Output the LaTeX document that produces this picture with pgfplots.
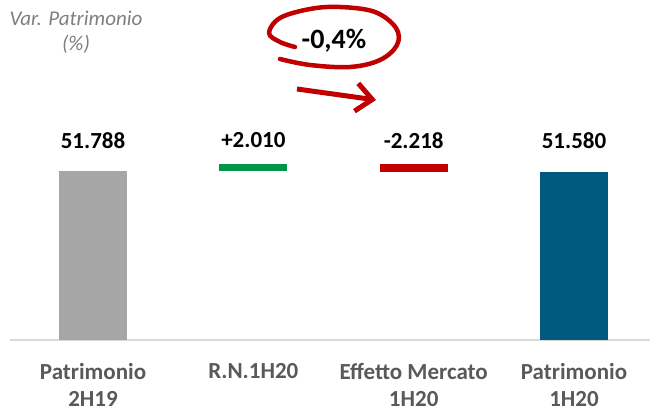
\documentclass[border=0pt]{standalone}
\usepackage{pgfplots}
\pgfplotsset{compat=1.18}
\usepackage{fontspec}
\setmainfont{Carlito}
\usetikzlibrary{arrows.meta}
\definecolor{cgrey}{HTML}{A6A6A6}
\definecolor{cgreen}{HTML}{00964A}
\definecolor{cred}{HTML}{C00000}
\definecolor{cblue}{HTML}{005A80}
\definecolor{labgrey}{HTML}{595959}
\definecolor{vargrey}{HTML}{7F7F7F}
\definecolor{linegrey}{HTML}{D9D9D9}
\begin{document}
\begin{tikzpicture}[x=1pt,y=1pt]
\useasboundingbox (0,0) rectangle (650,411);
\begin{axis}[at={(10pt,71pt)}, anchor=south west, scale only axis,
  width=640pt, height=340pt,
  xmin=-0.518, xmax=3.474, ymin=0, ymax=104190,
  ybar stacked, bar width=68pt,
  hide y axis, axis x line=bottom,
  x axis line style={-, draw=linegrey, line width=1.5pt},
  xtick={0,1,2,3},
  xticklabels={{Patrimonio\\2H19},{R.N.1H20},{Effetto Mercato\\1H20},{Patrimonio\\1H20}},
  major tick length=0pt,
  xticklabel style={anchor=north, inner sep=0pt, yshift=-23pt, align=center,
    font=\fontsize{23}{27}\selectfont\bfseries, text=labgrey},
  clip=false]
\addplot[fill=none, draw=none] coordinates {(0,0) (1,51788) (2,51580) (3,0)};
\addplot[fill=cgrey, draw=none] coordinates {(0,51788) (1,0) (2,0) (3,0)};
\addplot[fill=cgreen, draw=none] coordinates {(0,0) (1,2010) (2,0) (3,0)};
\addplot[fill=cred, draw=none] coordinates {(0,0) (1,0) (2,2218) (3,0)};
\addplot[fill=cblue, draw=none] coordinates {(0,0) (1,0) (2,0) (3,51580)};
\end{axis}
\begin{axis}[at={(10pt,71pt)}, anchor=south west, scale only axis,
  width=640pt, height=340pt,
  xmin=-0.518, xmax=3.474, ymin=0, ymax=104190,
  hide axis, clip=false]
\addplot[draw=none, mark=none, nodes near coords, point meta=explicit symbolic,
  every node near coord/.style={anchor=center, inner sep=0pt,
    font=\fontsize{23}{25}\selectfont\bfseries, text=black}]
  coordinates {(0,61135)[51.788] (1,61135)[+2.010] (2,61135)[-2.218] (3,61135)[51.580]};
\end{axis}
\node[font=\fontsize{21}{25}\selectfont\itshape, text=vargrey, align=center] at (76,379) {Var. Patrimonio\\(\%)};
\node[font=\fontsize{28}{30}\selectfont\bfseries, text=black] at (334,370) {-0,4\%};
\draw[cred, line width=4.5pt, line cap=round, line join=round]
  plot[smooth, tension=0.6] coordinates {(295,364) (280,369) (269,378) (280,393) (310,402) (340,404) (375,399) (396,383) (397,366) (380,351) (350,344) (310,346) (280,352)};
\draw[cred, line width=5pt, -{Straight Barb[length=16pt, width=28pt]}] (297,322) -- (376,311);
\end{tikzpicture}
\end{document}
